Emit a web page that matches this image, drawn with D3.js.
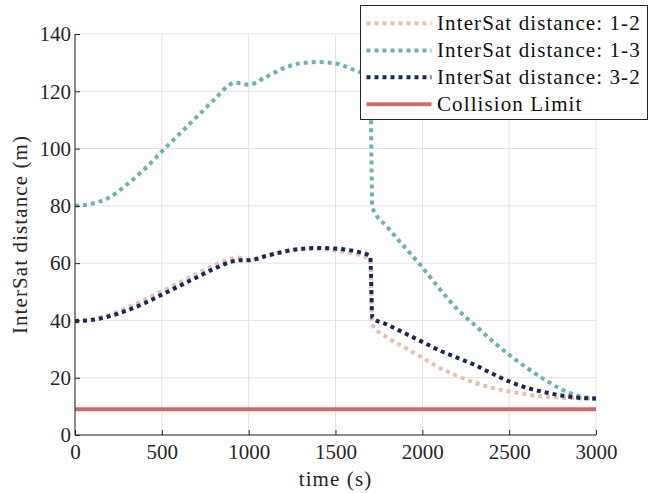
<!DOCTYPE html>
<meta charset="utf-8">
<head>
	<title>InterSat distance</title>
</head>
<style>
	body { margin: 0; background: #fff; }
</style>
<body>
<svg width="649" height="493"></svg>
<script src="https://cdnjs.cloudflare.com/ajax/libs/d3/7.8.5/d3.min.js"></script>
<script>

// time samples (s) and distances (m)
var t12 = [0, 100, 200, 300, 400, 500, 600, 700, 800, 900, 930, 1000, 1100, 1200, 1300, 1400, 1500, 1600, 1700, 1712, 1800, 1900, 2000, 2100, 2200, 2300, 2400, 2500, 2600, 2700, 2800, 2900, 3000];
var d12 = [40, 40.5, 42, 44.5, 47.3, 50.2, 53.2, 56.2, 59.2, 61.6, 62, 61.2, 62.6, 64, 64.8, 65, 64.4, 63.3, 61.3, 38.5, 34, 30.5, 27, 23.4, 20.7, 18.3, 16.5, 15.2, 14.2, 13.4, 13, 12.8, 12.7];

var t13 = [0, 100, 200, 300, 400, 500, 600, 700, 800, 900, 920, 1000, 1100, 1200, 1300, 1400, 1500, 1600, 1700, 1712, 1800, 1900, 2000, 2100, 2200, 2300, 2400, 2500, 2600, 2700, 2800, 2900, 3000];
var d13 = [80, 80.8, 83, 87.5, 92.8, 99, 105, 111, 117, 122.6, 123, 122.3, 125, 128, 129.8, 130.2, 129.7, 127.6, 124.5, 79.5, 72.5, 65.5, 58.5, 51, 44, 38.5, 33, 28, 23.5, 19.5, 16, 13.6, 12.7];

var t32 = [0, 100, 200, 300, 400, 500, 600, 700, 800, 900, 950, 1000, 1100, 1200, 1300, 1400, 1500, 1600, 1700, 1712, 1800, 1900, 2000, 2100, 2200, 2300, 2400, 2500, 2600, 2700, 2800, 2900, 3000];
var d32 = [39.7, 40.2, 41.5, 43.5, 46, 49, 52, 55, 58, 60.5, 61, 61, 62.5, 64, 65, 65.3, 65.1, 64.3, 62.5, 41, 38.5, 35.5, 32.5, 29.5, 27, 24.5, 21.5, 18.7, 16.5, 15, 13.8, 13, 12.7];

var collisionLimit = 9;

var seriesNames = ["InterSat distance: 1-2", "InterSat distance: 1-3", "InterSat distance: 3-2", "Collision Limit"];
var seriesColors = ["#e6c0b1", "#68b4b2", "#1d2852", "#d16b6b"];

var xTicks = [0, 500, 1000, 1500, 2000, 2500, 3000];
var yTicks = [0, 20, 40, 60, 80, 100, 120, 140];

var serif = "'Liberation Serif', 'DejaVu Serif', 'Times New Roman', serif";

var svg = d3.select("svg"),
	margin = {top: 34, right: 53, bottom: 58, left: 75},
	width = svg.attr("width") - margin.left - margin.right,
	height = svg.attr("height") - margin.top - margin.bottom;

var g = svg.append("g")
	.attr("transform", "translate(" + margin.left + "," + margin.top + ")");

var x = d3.scaleLinear().domain([0, 3000]).range([0, width]);
var y = d3.scaleLinear().domain([0, 140]).range([height, 0]);

// grid
g.selectAll(".vgrid").data(xTicks).enter().append("line")
	.attr("x1", d => x(d)).attr("x2", d => x(d))
	.attr("y1", 0).attr("y2", height)
	.attr("stroke", "#e3e3e3").attr("stroke-width", 1);
g.selectAll(".hgrid").data(yTicks).enter().append("line")
	.attr("x1", 0).attr("x2", width)
	.attr("y1", d => y(d)).attr("y2", d => y(d))
	.attr("stroke", "#e3e3e3").attr("stroke-width", 1);

// collision limit
g.append("line")
	.attr("x1", x(0)).attr("x2", x(3000))
	.attr("y1", y(collisionLimit)).attr("y2", y(collisionLimit))
	.attr("stroke", seriesColors[3]).attr("stroke-width", 4);

var line = d3.line()
	.x(d => x(d[0]))
	.y(d => y(d[1]))
	.curve(d3.curveMonotoneX);

var series = [
	d3.zip(t12, d12),
	d3.zip(t13, d13),
	d3.zip(t32, d32)
];

series.forEach(function(s, i) {
	g.append("path")
		.datum(s)
		.attr("fill", "none")
		.attr("stroke", seriesColors[i])
		.attr("stroke-width", 4)
		.attr("stroke-dasharray", "4,4")
		.attr("d", line);
});

// axes
function customXAxis(sel) {
	sel.call(d3.axisBottom(x).tickValues(xTicks).tickSize(-5).tickPadding(10).tickFormat(d3.format("d")));
	sel.attr("font-family", serif).attr("font-size", 21);
	sel.select(".domain").attr("d", "M0,0H" + width).attr("stroke", "#262626");
	sel.selectAll(".tick line").attr("stroke", "#262626");
	sel.selectAll("text").attr("fill", "#262626").attr("dy", "0.67em");
}
function customYAxis(sel) {
	sel.call(d3.axisLeft(y).tickValues(yTicks).tickSize(-5).tickPadding(4));
	sel.attr("font-family", serif).attr("font-size", 21);
	sel.select(".domain").attr("d", "M0," + height + "V0").attr("stroke", "#262626");
	sel.selectAll(".tick line").attr("stroke", "#262626");
	sel.selectAll("text").attr("fill", "#262626");
}

g.append("g").attr("transform", "translate(0," + height + ")").call(customXAxis);
g.append("g").call(customYAxis);

// axis labels
g.append("text")
	.attr("x", width / 2)
	.attr("y", height + 51)
	.attr("text-anchor", "middle")
	.attr("font-family", serif)
	.attr("font-size", 21)
	.attr("fill", "#262626")
	.style("letter-spacing", "1.1px")
	.text("time (s)");

g.append("text")
	.attr("transform", "translate(" + (-48) + "," + (height / 2) + ") rotate(-90)")
	.attr("text-anchor", "middle")
	.attr("font-family", serif)
	.attr("font-size", 21)
	.attr("fill", "#262626")
	.style("letter-spacing", "1.1px")
	.text("InterSat distance (m)");

// legend
var legend = svg.append("g").attr("transform", "translate(360.5,5.5)");
legend.append("rect")
	.attr("width", 287).attr("height", 114)
	.attr("fill", "#fff").attr("stroke", "#262626").attr("stroke-width", 1);

seriesNames.forEach(function(name, i) {
	var cy = 18 + i * 26.9;
	legend.append("line")
		.attr("x1", 6).attr("x2", 71)
		.attr("y1", cy).attr("y2", cy)
		.attr("stroke", seriesColors[i])
		.attr("stroke-width", 4)
		.attr("stroke-dasharray", i < 3 ? "4,4" : null);
	legend.append("text")
		.attr("x", 76.5)
		.attr("y", cy + 6.3)
		.attr("font-family", serif)
		.attr("font-size", 21)
		.attr("fill", "#111")
		.style("letter-spacing", "1.1px")
		.text(name);
});

</script>
</body>
</html>
